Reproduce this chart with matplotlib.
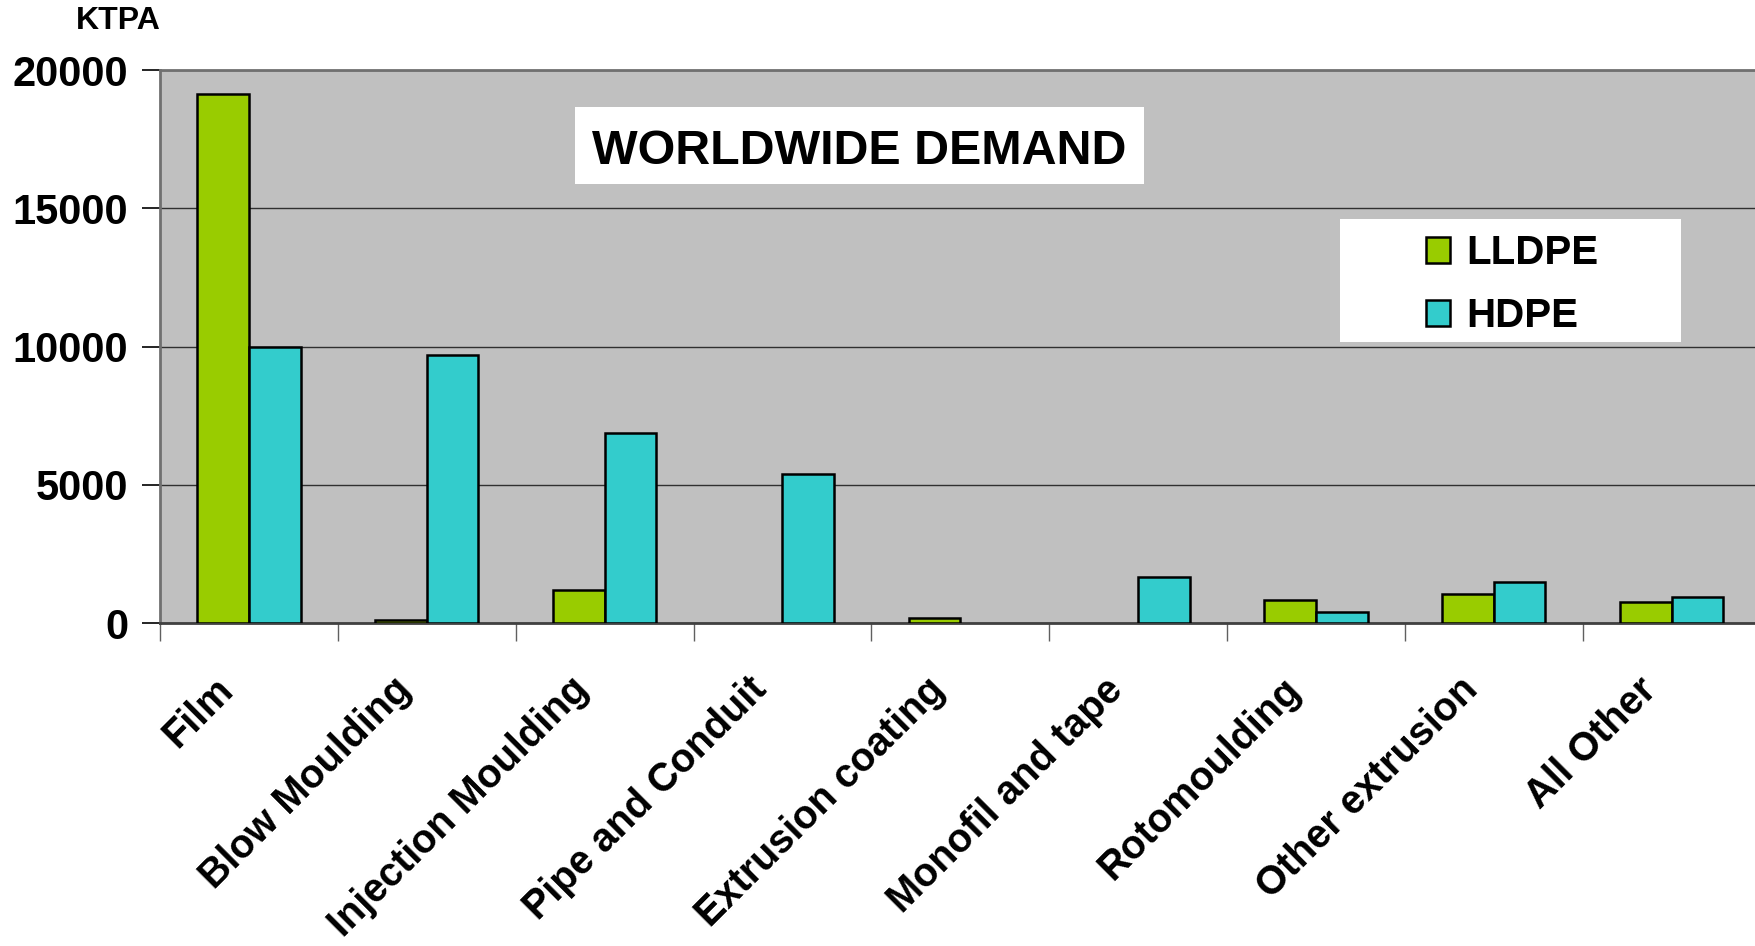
import numpy as np
import matplotlib.pyplot as plt
import matplotlib.transforms as mtransforms
from matplotlib.patches import Rectangle

categories = ['Film', 'Blow Moulding', 'Injection Moulding', 'Pipe and Conduit',
              'Extrusion coating', 'Monofil and tape', 'Rotomoulding',
              'Other extrusion', 'All Other']
lldpe = [19150, 100, 1200, 0, 200, 0, 850, 1050, 770]
hdpe = [10000, 9700, 6880, 5400, 0, 1660, 400, 1500, 930]

plt.rcParams['font.family'] = ['Liberation Sans', 'DejaVu Sans']
plt.rcParams['font.weight'] = 'bold'

fig = plt.figure(figsize=(17.55, 9.46), dpi=100)
ax = fig.add_axes([0.0912, 0.3414, 0.912, 0.5846])
ax.set_facecolor('#c0c0c0')

x = np.arange(len(categories))
w = 0.29
b1 = ax.bar(x - w / 2, lldpe, w, color='#99cc00', edgecolor='black', linewidth=1.8, label='LLDPE', zorder=3)
b2 = ax.bar(x + w / 2, hdpe, w, color='#33cccc', edgecolor='black', linewidth=1.8, label='HDPE', zorder=3)
# no outline for empty bars
for bars, vals in [(b1, lldpe), (b2, hdpe)]:
    for r, v in zip(bars, vals):
        if v == 0:
            r.set_linewidth(0)

ax.set_xlim(-0.5, len(categories) - 0.5)
ax.set_ylim(0, 20000)
ax.set_yticks([0, 5000, 10000, 15000, 20000])
ax.yaxis.grid(True, color='#303030', linewidth=1)
ax.set_axisbelow(True)

# category boundaries as ticks, labels on minor ticks
ax.set_xticks(np.arange(-0.5, len(categories)), labels=[''] * (len(categories) + 1))
ax.set_xticks(x, labels=categories, minor=True)
ax.tick_params(axis='x', which='major', length=13, width=1, color='#606060', direction='out')
ax.tick_params(axis='x', which='minor', length=0, pad=34)
ax.tick_params(axis='y', length=13, width=1.2, color='black', pad=10, labelsize=30)
shift = mtransforms.ScaledTranslation(-35 / 100, 0, fig.dpi_scale_trans)
for lab in ax.get_xticklabels(minor=True):
    lab.set_rotation(45)
    lab.set_ha('right')
    lab.set_rotation_mode('anchor')
    lab.set_fontsize(28.5)
    lab.set_fontweight('bold')
    lab.set_transform(lab.get_transform() + shift)
for lab in ax.get_yticklabels():
    lab.set_fontweight('bold')

for s in ['left', 'top']:
    ax.spines[s].set_color('#707070')
    ax.spines[s].set_linewidth(2)
ax.spines['right'].set_visible(False)
ax.spines['bottom'].set_color('#404040')
ax.spines['bottom'].set_linewidth(2)

fig.text(0.0675, 0.978, 'KTPA', fontsize=23, fontweight='bold', ha='center', va='center')

# title box
fig.add_artist(Rectangle((0.3276, 0.8055), 0.3242, 0.0814, transform=fig.transFigure,
                         facecolor='white', edgecolor='none', zorder=2))
fig.text(0.4897, 0.840, 'WORLDWIDE DEMAND', fontsize=34.8, fontweight='bold',
         ha='center', va='center', zorder=3)

# legend box
fig.add_artist(Rectangle((0.7635, 0.6385), 0.1943, 0.130, transform=fig.transFigure,
                         facecolor='white', edgecolor='none', zorder=2))
leg = fig.legend(handles=[b1, b2], labels=['LLDPE', 'HDPE'], loc='center',
                 bbox_to_anchor=(0.8615, 0.699), frameon=False,
                 handlelength=0.6, handleheight=0.6, handletextpad=0.4, labelspacing=0.62,
                 prop={'weight': 'bold', 'size': 29})
leg.set_zorder(4)

fig.savefig('out.png', dpi=100)
